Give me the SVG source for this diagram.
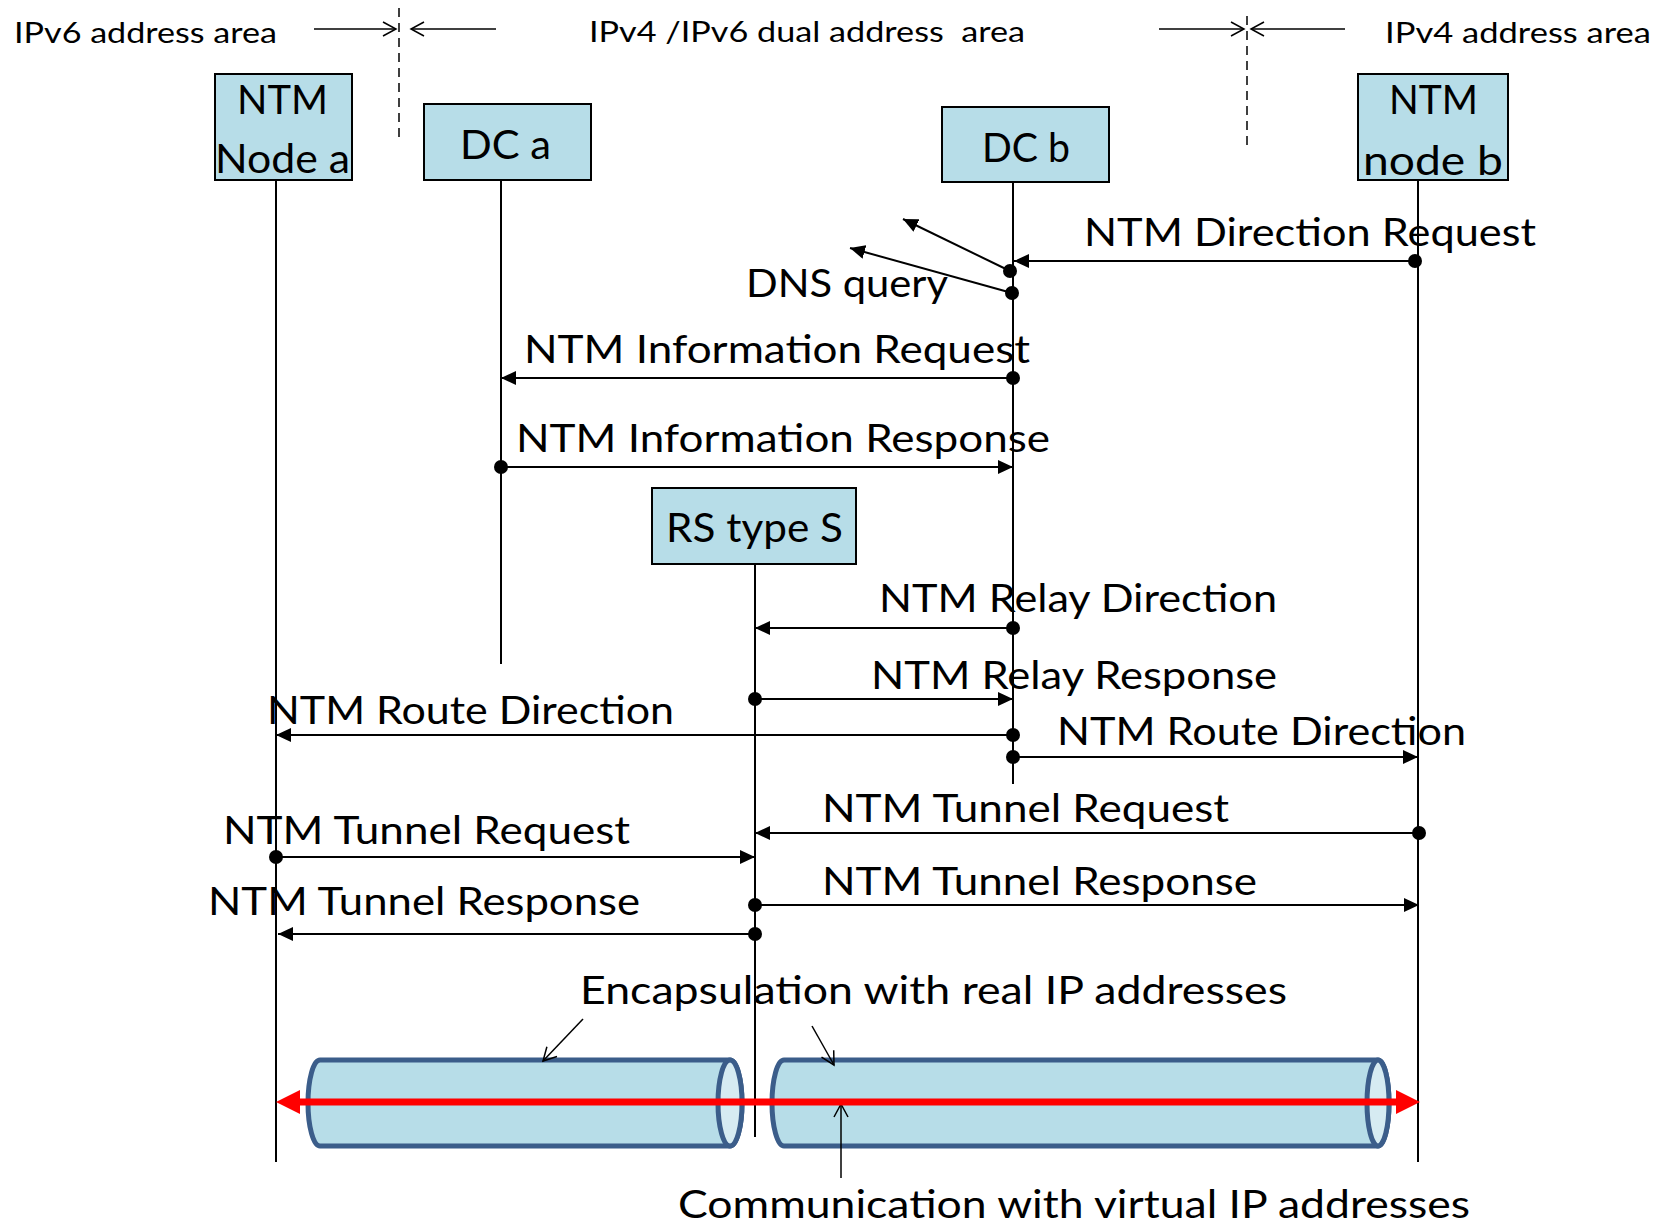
<svg xmlns="http://www.w3.org/2000/svg" width="1661" height="1223" viewBox="0 0 1661 1223">
  <style>
    text { font-family: Lato, "Open Sans", "DejaVu Sans", sans-serif; fill: #000; }
    .hdr { font-size: 28px; }
    .lbl { font-size: 39px; }
    .boxt { font-size: 40px; }
    .box { fill: #b7dde8; stroke: #000; stroke-width: 2; }
    .life { stroke: #000; stroke-width: 2; fill: none; }
    .msg { stroke: #000; stroke-width: 2; fill: none; marker-end: url(#solid); }
    .thin { stroke: #000; stroke-width: 1.5; fill: none; marker-end: url(#open); }
    .dash { stroke: #000; stroke-width: 1.5; stroke-dasharray: 9 6; fill: none; }
    .dot { fill: #000; }
    .tube { fill: #b7dde8; stroke: #3b5d8a; stroke-width: 5; }
    .tubecap { fill: #d6ebf2; stroke: #3b5d8a; stroke-width: 5; }
  </style>
  <defs>
    <marker id="solid" viewBox="0 0 15 14" refX="15" refY="7" markerWidth="15" markerHeight="14" markerUnits="userSpaceOnUse" orient="auto">
      <path d="M0,0 L15,7 L0,14 Z" fill="#000"/>
    </marker>
    <marker id="open" viewBox="-1 -1 16 16" refX="13" refY="7" markerWidth="16" markerHeight="16" markerUnits="userSpaceOnUse" orient="auto">
      <path d="M0,0 L13,7 L0,14" fill="none" stroke="#000" stroke-width="1.5"/>
    </marker>
    <marker id="redhead" viewBox="0 0 24 24" refX="0" refY="12" markerWidth="24" markerHeight="24" markerUnits="userSpaceOnUse" orient="auto-start-reverse">
      <path d="M0,0 L24,12 L0,24 Z" fill="#ff0000"/>
    </marker>
  </defs>

  <!-- address area headings and borders -->
  <g id="areas">
    <text class="hdr" x="14" y="43" textLength="263" lengthAdjust="spacingAndGlyphs">IPv6 address area</text>
    <text class="hdr" x="589" y="42" textLength="436" lengthAdjust="spacingAndGlyphs" xml:space="preserve">IPv4 /IPv6 dual address  area</text>
    <text class="hdr" x="1385" y="43" textLength="266" lengthAdjust="spacingAndGlyphs">IPv4 address area</text>
    <line class="dash" x1="399" y1="8" x2="399" y2="140"/>
    <line class="dash" x1="1247" y1="16" x2="1247" y2="150"/>
    <line class="thin" x1="314" y1="29" x2="396" y2="29"/>
    <line class="thin" x1="496" y1="29" x2="411" y2="29"/>
    <line class="thin" x1="1159" y1="29" x2="1244" y2="29"/>
    <line class="thin" x1="1345" y1="29" x2="1251" y2="29"/>
  </g>

  <!-- participants -->
  <g id="ntm-node-a">
    <line class="life" x1="276" y1="180" x2="276" y2="1162"/>
    <rect class="box" x="215" y="74" width="137" height="106"/>
    <text class="boxt" x="237" y="114" textLength="91" lengthAdjust="spacingAndGlyphs">NTM</text>
    <text class="boxt" x="215" y="173" textLength="135" lengthAdjust="spacingAndGlyphs">Node a</text>
  </g>
  <g id="dc-a">
    <line class="life" x1="501" y1="180" x2="501" y2="664"/>
    <rect class="box" x="424" y="104" width="167" height="76"/>
    <text class="boxt" x="460" y="159" textLength="91" lengthAdjust="spacingAndGlyphs">DC a</text>
  </g>
  <g id="dc-b">
    <line class="life" x1="1013" y1="182" x2="1013" y2="784"/>
    <rect class="box" x="942" y="107" width="167" height="75"/>
    <text class="boxt" x="982" y="162" textLength="88" lengthAdjust="spacingAndGlyphs">DC b</text>
  </g>
  <g id="ntm-node-b">
    <line class="life" x1="1418" y1="180" x2="1418" y2="1162"/>
    <rect class="box" x="1358" y="74" width="150" height="106"/>
    <text class="boxt" x="1389" y="114" textLength="89" lengthAdjust="spacingAndGlyphs">NTM</text>
    <text class="boxt" x="1363" y="175" textLength="140" lengthAdjust="spacingAndGlyphs">node b</text>
  </g>
  <g id="rs-type-s">
    <line class="life" x1="755" y1="564" x2="755" y2="1137"/>
    <rect class="box" x="652" y="488" width="204" height="76"/>
    <text class="boxt" x="666" y="542" textLength="177" lengthAdjust="spacingAndGlyphs">RS type S</text>
  </g>

  <!-- tunnels -->
  <g id="tunnel-left">
    <path class="tube" d="M320,1060 L730,1060 A12,43 0 0 1 730,1146 L320,1146 A12,43 0 0 1 320,1060 Z"/>
    <ellipse class="tubecap" cx="730" cy="1103" rx="12" ry="43"/>
  </g>
  <g id="tunnel-right">
    <path class="tube" d="M784,1060 L1378,1060 A11,43 0 0 1 1378,1146 L784,1146 A12,43 0 0 1 784,1060 Z"/>
    <ellipse class="tubecap" cx="1378" cy="1103" rx="11" ry="43"/>
  </g>

  <!-- messages -->
  <g id="connectors">
    <line class="msg" x1="1415" y1="261" x2="1014" y2="261"/>
    <circle class="dot" cx="1415" cy="261" r="7"/>

    <line class="msg" x1="1010" y1="271" x2="903" y2="219"/>
    <circle class="dot" cx="1010" cy="271" r="7"/>
    <line class="msg" x1="1012" y1="293" x2="850" y2="248"/>
    <circle class="dot" cx="1012" cy="293" r="7"/>

    <line class="msg" x1="1013" y1="378" x2="501" y2="378"/>
    <circle class="dot" cx="1013" cy="378" r="7"/>
    <line class="msg" x1="501" y1="467" x2="1013" y2="467"/>
    <circle class="dot" cx="501" cy="467" r="7"/>

    <line class="msg" x1="1013" y1="628" x2="755" y2="628"/>
    <circle class="dot" cx="1013" cy="628" r="7"/>
    <line class="msg" x1="755" y1="699" x2="1013" y2="699"/>
    <circle class="dot" cx="755" cy="699" r="7"/>

    <line class="msg" x1="1013" y1="735" x2="276" y2="735"/>
    <circle class="dot" cx="1013" cy="735" r="7"/>
    <line class="msg" x1="1013" y1="757" x2="1418" y2="757"/>
    <circle class="dot" cx="1013" cy="757" r="7"/>

    <line class="msg" x1="1419" y1="833" x2="755" y2="833"/>
    <circle class="dot" cx="1419" cy="833" r="7"/>
    <line class="msg" x1="276" y1="857" x2="755" y2="857"/>
    <circle class="dot" cx="276" cy="857" r="7"/>

    <line class="msg" x1="755" y1="905" x2="1419" y2="905"/>
    <circle class="dot" cx="755" cy="905" r="7"/>
    <line class="msg" x1="755" y1="934" x2="278" y2="934"/>
    <circle class="dot" cx="755" cy="934" r="7"/>

    <!-- pointers to the tunnels -->
    <line class="thin" x1="583" y1="1019" x2="543" y2="1061"/>
    <line class="thin" x1="812" y1="1026" x2="834" y2="1065"/>
    <line class="thin" x1="841" y1="1178" x2="841" y2="1104"/>

    <!-- end-to-end path through the tunnels -->
    <line x1="300" y1="1102" x2="1396" y2="1102" stroke="#ff0000" stroke-width="7" marker-start="url(#redhead)" marker-end="url(#redhead)"/>
  </g>

  <!-- message labels -->
  <g id="labels">
    <text class="lbl" x="1084" y="246" textLength="452" lengthAdjust="spacingAndGlyphs">NTM Direction Request</text>
    <text class="lbl" x="746" y="297" textLength="202" lengthAdjust="spacingAndGlyphs">DNS query</text>
    <text class="lbl" x="524" y="363" textLength="506" lengthAdjust="spacingAndGlyphs">NTM Information Request</text>
    <text class="lbl" x="516" y="452" textLength="534" lengthAdjust="spacingAndGlyphs">NTM Information Response</text>
    <text class="lbl" x="879" y="612" textLength="398" lengthAdjust="spacingAndGlyphs">NTM Relay Direction</text>
    <text class="lbl" x="871" y="689" textLength="406" lengthAdjust="spacingAndGlyphs">NTM Relay Response</text>
    <text class="lbl" x="267" y="724" textLength="407" lengthAdjust="spacingAndGlyphs">NTM Route Direction</text>
    <text class="lbl" x="1057" y="745" textLength="409" lengthAdjust="spacingAndGlyphs">NTM Route Direction</text>
    <text class="lbl" x="822" y="822" textLength="407" lengthAdjust="spacingAndGlyphs">NTM Tunnel Request</text>
    <text class="lbl" x="223" y="844" textLength="407" lengthAdjust="spacingAndGlyphs">NTM Tunnel Request</text>
    <text class="lbl" x="822" y="895" textLength="435" lengthAdjust="spacingAndGlyphs">NTM Tunnel Response</text>
    <text class="lbl" x="208" y="915" textLength="432" lengthAdjust="spacingAndGlyphs">NTM Tunnel Response</text>
    <text class="lbl" x="580" y="1004" textLength="707" lengthAdjust="spacingAndGlyphs">Encapsulation with real IP addresses</text>
    <text class="lbl" x="678" y="1218" textLength="792" lengthAdjust="spacingAndGlyphs">Communication with virtual IP addresses</text>
  </g>
</svg>
